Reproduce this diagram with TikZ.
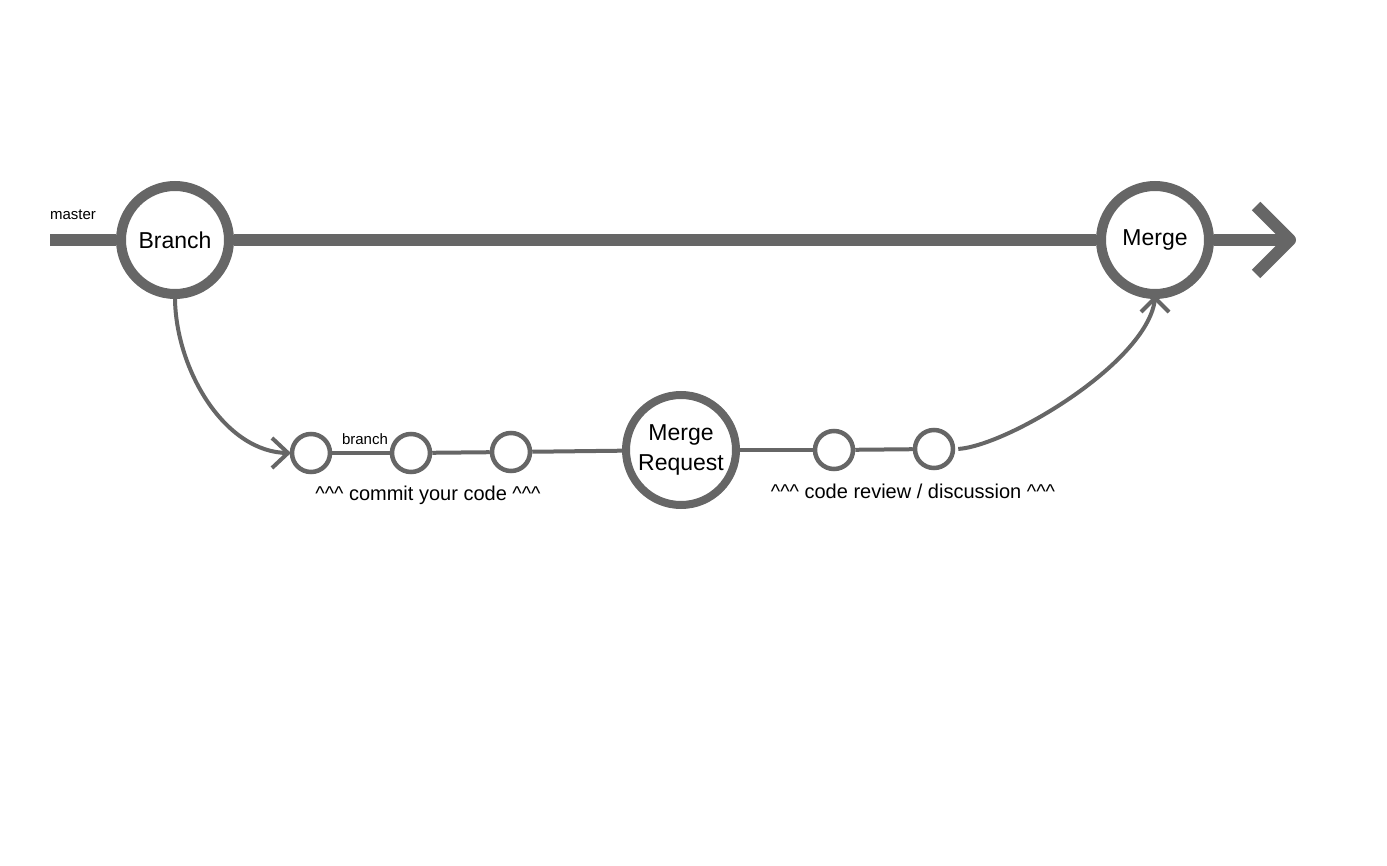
\documentclass[tikz,border=0pt]{standalone}
\usepackage{fontspec}
\setmainfont{Liberation Sans}
\definecolor{ln}{HTML}{666666}
\begin{document}
\begin{tikzpicture}[x=1pt,y=-1pt,
  bigc/.style={circle,draw=ln,fill=white,line width=10pt,minimum size=108pt,inner sep=0pt,font=\fontsize{23}{27}\selectfont},
  mrc/.style={circle,draw=ln,fill=white,line width=8pt,minimum size=110pt,inner sep=0pt,font=\fontsize{23}{30}\selectfont,align=center},
  smallc/.style={circle,draw=ln,fill=white,line width=4.5pt,minimum size=38pt,inner sep=0pt},
  mainline/.style={draw=ln,line width=12pt},
  thinline/.style={draw=ln,line width=4pt},
  smalltxt/.style={font=\fontsize{15}{18}\selectfont,inner sep=0pt},
  midtxt/.style={font=\fontsize{20}{24}\selectfont,inner sep=0pt}]
\useasboundingbox (0,0) rectangle (1387,866);
% nodes
\node[bigc] (branch) at (175,240) {Branch};
\node[bigc] (merge) at (1155,240) {Merge};
\node[smallc] (c1) at (311,453) {};
\node[smallc] (c2) at (411,453) {};
\node[smallc] (c3) at (511,452) {};
\node[mrc] (mr) at (681,450) {Merge\\Request};
\node[smallc] (c4) at (834,450) {};
\node[smallc] (c5) at (934,449) {};
\coordinate (mstart) at (50,240);
\coordinate (mend) at (1290,240);
\coordinate (t1) at (288,453);
\coordinate (t2) at (1155,298);
% labels
\node[smalltxt] (lmaster) at (73,215) {master};
\node[smalltxt] (lbranch) at (365,439) {branch};
\node[midtxt] (lcommit) at (428,495) {\textasciicircum\textasciicircum\textasciicircum{} commit your code \textasciicircum\textasciicircum\textasciicircum};
\node[midtxt] (lreview) at (913,491) {\textasciicircum\textasciicircum\textasciicircum{} code review / discussion \textasciicircum\textasciicircum\textasciicircum};
% master line
\draw[mainline] (mstart) -- (branch.west);
\draw[mainline] (branch.east) -- (merge.west);
\draw[mainline] (merge.east) -- (mend);
\draw[mainline,line join=round] ([shift={(-34,-34)}]mend) -- (mend) -- ([shift={(-34,34)}]mend);
% branch line
\draw[thinline] (c1) -- (c2);
\draw[thinline] (c2) -- (c3);
\draw[thinline] (c3) -- (mr);
\draw[thinline] (mr) -- (c4);
\draw[thinline] (c4) -- (c5);
% curves
\draw[thinline] (branch.south) .. controls (176,370) and (225,453) .. (t1);
\draw[thinline] ([shift={(-16,-15)}]t1) -- (t1) -- ([shift={(-16,15)}]t1);
\draw[thinline] ([xshift=3pt]c5.east) .. controls (1010,445) and (1150,360) .. (t2);
\draw[thinline] ([shift={(-14,14)}]t2) -- (t2) -- ([shift={(14,14)}]t2);
\end{tikzpicture}
\end{document}
